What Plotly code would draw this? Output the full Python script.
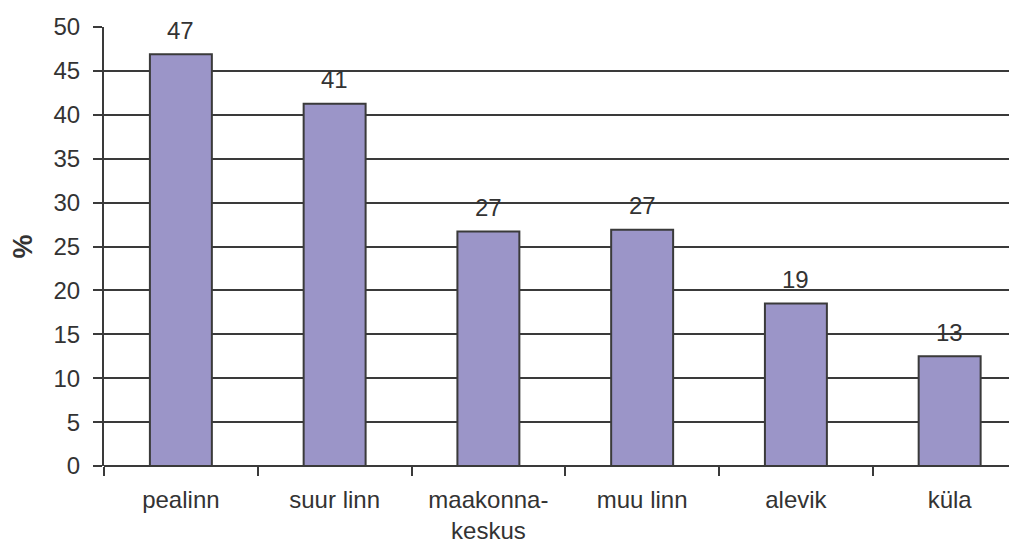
import plotly.graph_objects as go

categories = ["pealinn", "suur linn", "maakonna-<br>keskus", "muu linn", "alevik", "küla"]
values = [46.9, 41.25, 26.7, 26.9, 18.5, 12.5]
labels = ["47", "41", "27", "27", "19", "13"]
y_ticks = [0, 5, 10, 15, 20, 25, 30, 35, 40, 45, 50]

FONT = "Liberation Sans, Arial, Helvetica, sans-serif"
TXT = "#333333"
LINE = "#3a3a3a"
FS = 24

fig = go.Figure()
fig.add_trace(go.Bar(
    x=categories, y=values,
    marker=dict(color="#9b95c8", line=dict(color=LINE, width=2)),
    hoverinfo="skip",
))

for c, v, t in zip(categories, values, labels):
    fig.add_annotation(x=c, y=v, text=t, showarrow=False, yanchor="middle",
                       yshift=24, font=dict(family=FONT, size=FS, color=TXT))

fig.update_layout(
    width=1017, height=543,
    margin=dict(l=96, r=8, t=19, b=85, autoexpand=False),
    paper_bgcolor="white", plot_bgcolor="white",
    bargap=0.597,
    showlegend=False,
    font=dict(family=FONT, size=FS, color=TXT),
)
fig.update_xaxes(
    range=[-0.5, 5.438],
    showline=False, showgrid=False,
    ticks="outside", tickson="boundaries", ticklen=9, tickwidth=2, tickcolor=LINE,
    tickfont=dict(family=FONT, size=FS, color=TXT),
    ticklabelstandoff=17,
)
fig.update_yaxes(
    range=[0, 50], tickvals=y_ticks,
    showline=True, linecolor=LINE, linewidth=2,
    showgrid=True, gridcolor=LINE, gridwidth=2,
    zeroline=True, zerolinecolor=LINE, zerolinewidth=2,
    ticks="outside", ticklen=9, tickwidth=2, tickcolor=LINE,
    tickfont=dict(family=FONT, size=FS, color=TXT),
    ticklabelstandoff=8,
    title=dict(text="<b>%</b>", font=dict(family=FONT, size=27, color=TXT), standoff=22),
)

fig.write_html("out.html")
